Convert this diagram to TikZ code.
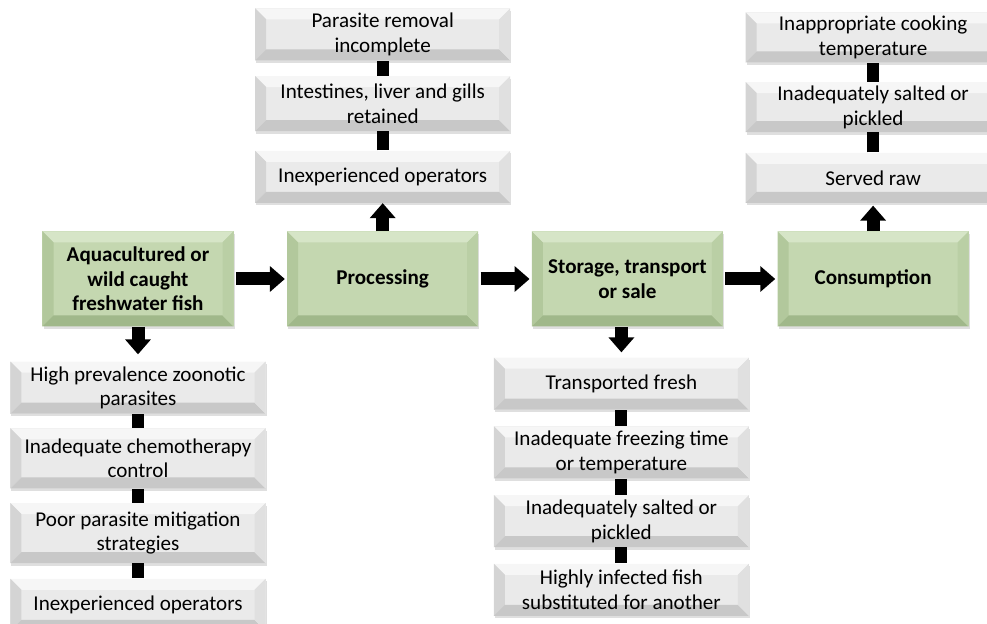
\documentclass[tikz,border=0pt]{standalone}
\usepackage{fontspec}
\setmainfont{Carlito}
\usepackage{tikz}
\usetikzlibrary{arrows.meta, positioning, calc, shadows}
\definecolor{stagegreen}{RGB}{196,215,176}
\definecolor{stagetop}{RGB}{214,229,199}
\definecolor{stageleft}{RGB}{178,200,156}
\definecolor{stagebot}{RGB}{160,184,138}
\definecolor{stageright}{RGB}{186,207,165}
\definecolor{factorgray}{RGB}{234,234,234}
\definecolor{factortop}{RGB}{246,246,246}
\definecolor{factorleft}{RGB}{212,212,212}
\definecolor{factorbot}{RGB}{200,200,200}
\definecolor{factorright}{RGB}{224,224,224}
\newcommand{\bevw}{0.22cm}
\newcommand{\boxfont}{\fontsize{12}{14}\selectfont}
\newcommand{\bevel}[4]{%
  \path (path picture bounding box.north west) coordinate (bnw)
        (path picture bounding box.north east) coordinate (bne)
        (path picture bounding box.south east) coordinate (bse)
        (path picture bounding box.south west) coordinate (bsw);
  \fill[#1] (bnw) -- (bne) -- ($(bne)+(-\bevw,-\bevw)$) -- ($(bnw)+(\bevw,-\bevw)$) -- cycle;
  \fill[#2] (bnw) -- ($(bnw)+(\bevw,-\bevw)$) -- ($(bsw)+(\bevw,\bevw)$) -- (bsw) -- cycle;
  \fill[#3] (bsw) -- ($(bsw)+(\bevw,\bevw)$) -- ($(bse)+(-\bevw,\bevw)$) -- (bse) -- cycle;
  \fill[#4] (bse) -- ($(bse)+(-\bevw,\bevw)$) -- ($(bne)+(-\bevw,-\bevw)$) -- (bne) -- cycle;}

\begin{document}
\begin{tikzpicture}[
  every node/.style={font=\boxfont, align=center, inner sep=1pt},
  stage/.style={fill=stagegreen, minimum width=3.82cm, minimum height=1.9cm,
    font=\boxfont\bfseries,
    drop shadow={shadow xshift=0.02cm, shadow yshift=-0.05cm, opacity=0.25},
    path picture={\bevel{stagetop}{stageleft}{stagebot}{stageright}}},
  factor/.style={fill=factorgray, minimum width=5.1cm, minimum height=1.04cm,
    drop shadow={shadow xshift=0.02cm, shadow yshift=-0.05cm, opacity=0.25},
    path picture={\bevel{factortop}{factorleft}{factorbot}{factorright}}},
  flow/.style={line width=0.26cm, -{Triangle[length=0.3cm, width=0.5cm]},
    shorten <=0.04cm, shorten >=0.04cm},
  link/.style={line width=0.24cm}
]
  \useasboundingbox (0,0) rectangle (19.74,-12.48);

  \node[stage] (fish) at (2.76,-5.58) {Aquacultured or\\wild caught\\freshwater fish};
  \node[stage, right=1.06cm of fish] (proc) {Processing};
  \node[stage, right=1.06cm of proc] (store) {Storage, transport\\or sale};
  \node[stage, right=1.08cm of store] (cons) {Consumption};

  % farm level
  \node[factor, below=0.69cm of fish] (f1) {High prevalence zoonotic\\parasites};
  \node[factor, below=0.28cm of f1, minimum height=1.2cm] (f2) {Inadequate chemotherapy\\control};
  \node[factor, below=0.28cm of f2, minimum height=1.2cm] (f3) {Poor parasite mitigation\\strategies};
  \node[factor, below=0.3cm of f3] (f4) {Inexperienced operators};

  % processing
  \node[factor, above=0.56cm of proc] (p1) {Inexperienced operators};
  \node[factor, above=0.38cm of p1, minimum height=1.1cm] (p2) {Intestines, liver and gills\\retained};
  \node[factor, above=0.3cm of p2] (p3) {Parasite removal\\incomplete};

  % storage
  \node[factor, below=0.61cm of store, xshift=-0.12cm] (s1) {Transported fresh};
  \node[factor, below=0.32cm of s1] (s2) {Inadequate freezing time\\or temperature};
  \node[factor, below=0.32cm of s2] (s3) {Inadequately salted or\\pickled};
  \node[factor, below=0.32cm of s3] (s4) {Highly infected fish\\substituted for another};

  % consumption
  \node[factor, above=0.56cm of cons, minimum height=1cm] (c1) {Served raw};
  \node[factor, above=0.4cm of c1, minimum height=1cm] (c2) {Inadequately salted or\\pickled};
  \node[factor, above=0.38cm of c2, minimum height=1cm] (c3) {Inappropriate cooking\\temperature};

  \draw[flow] (fish) -- (proc);
  \draw[flow] (proc) -- (store);
  \draw[flow] (store) -- (cons);
  \draw[flow, shorten <=0pt, shorten >=0.14cm] (fish) -- (f1);
  \draw[flow, shorten <=0pt, shorten >=0pt] (proc) -- (p1);
  \draw[flow, shorten <=0pt, shorten >=0.1cm] (s1 |- store.south) -- (s1);
  \draw[flow, shorten <=0pt, shorten >=0.05cm] (cons) -- (c1);

  \draw[link] (f1) -- (f2);
  \draw[link] (f2) -- (f3);
  \draw[link] (f3) -- (f4);
  \draw[link] (p1) -- (p2);
  \draw[link] (p2) -- (p3);
  \draw[link] (s1) -- (s2);
  \draw[link] (s2) -- (s3);
  \draw[link] (s3) -- (s4);
  \draw[link] (c1) -- (c2);
  \draw[link] (c2) -- (c3);
\end{tikzpicture}
\end{document}
